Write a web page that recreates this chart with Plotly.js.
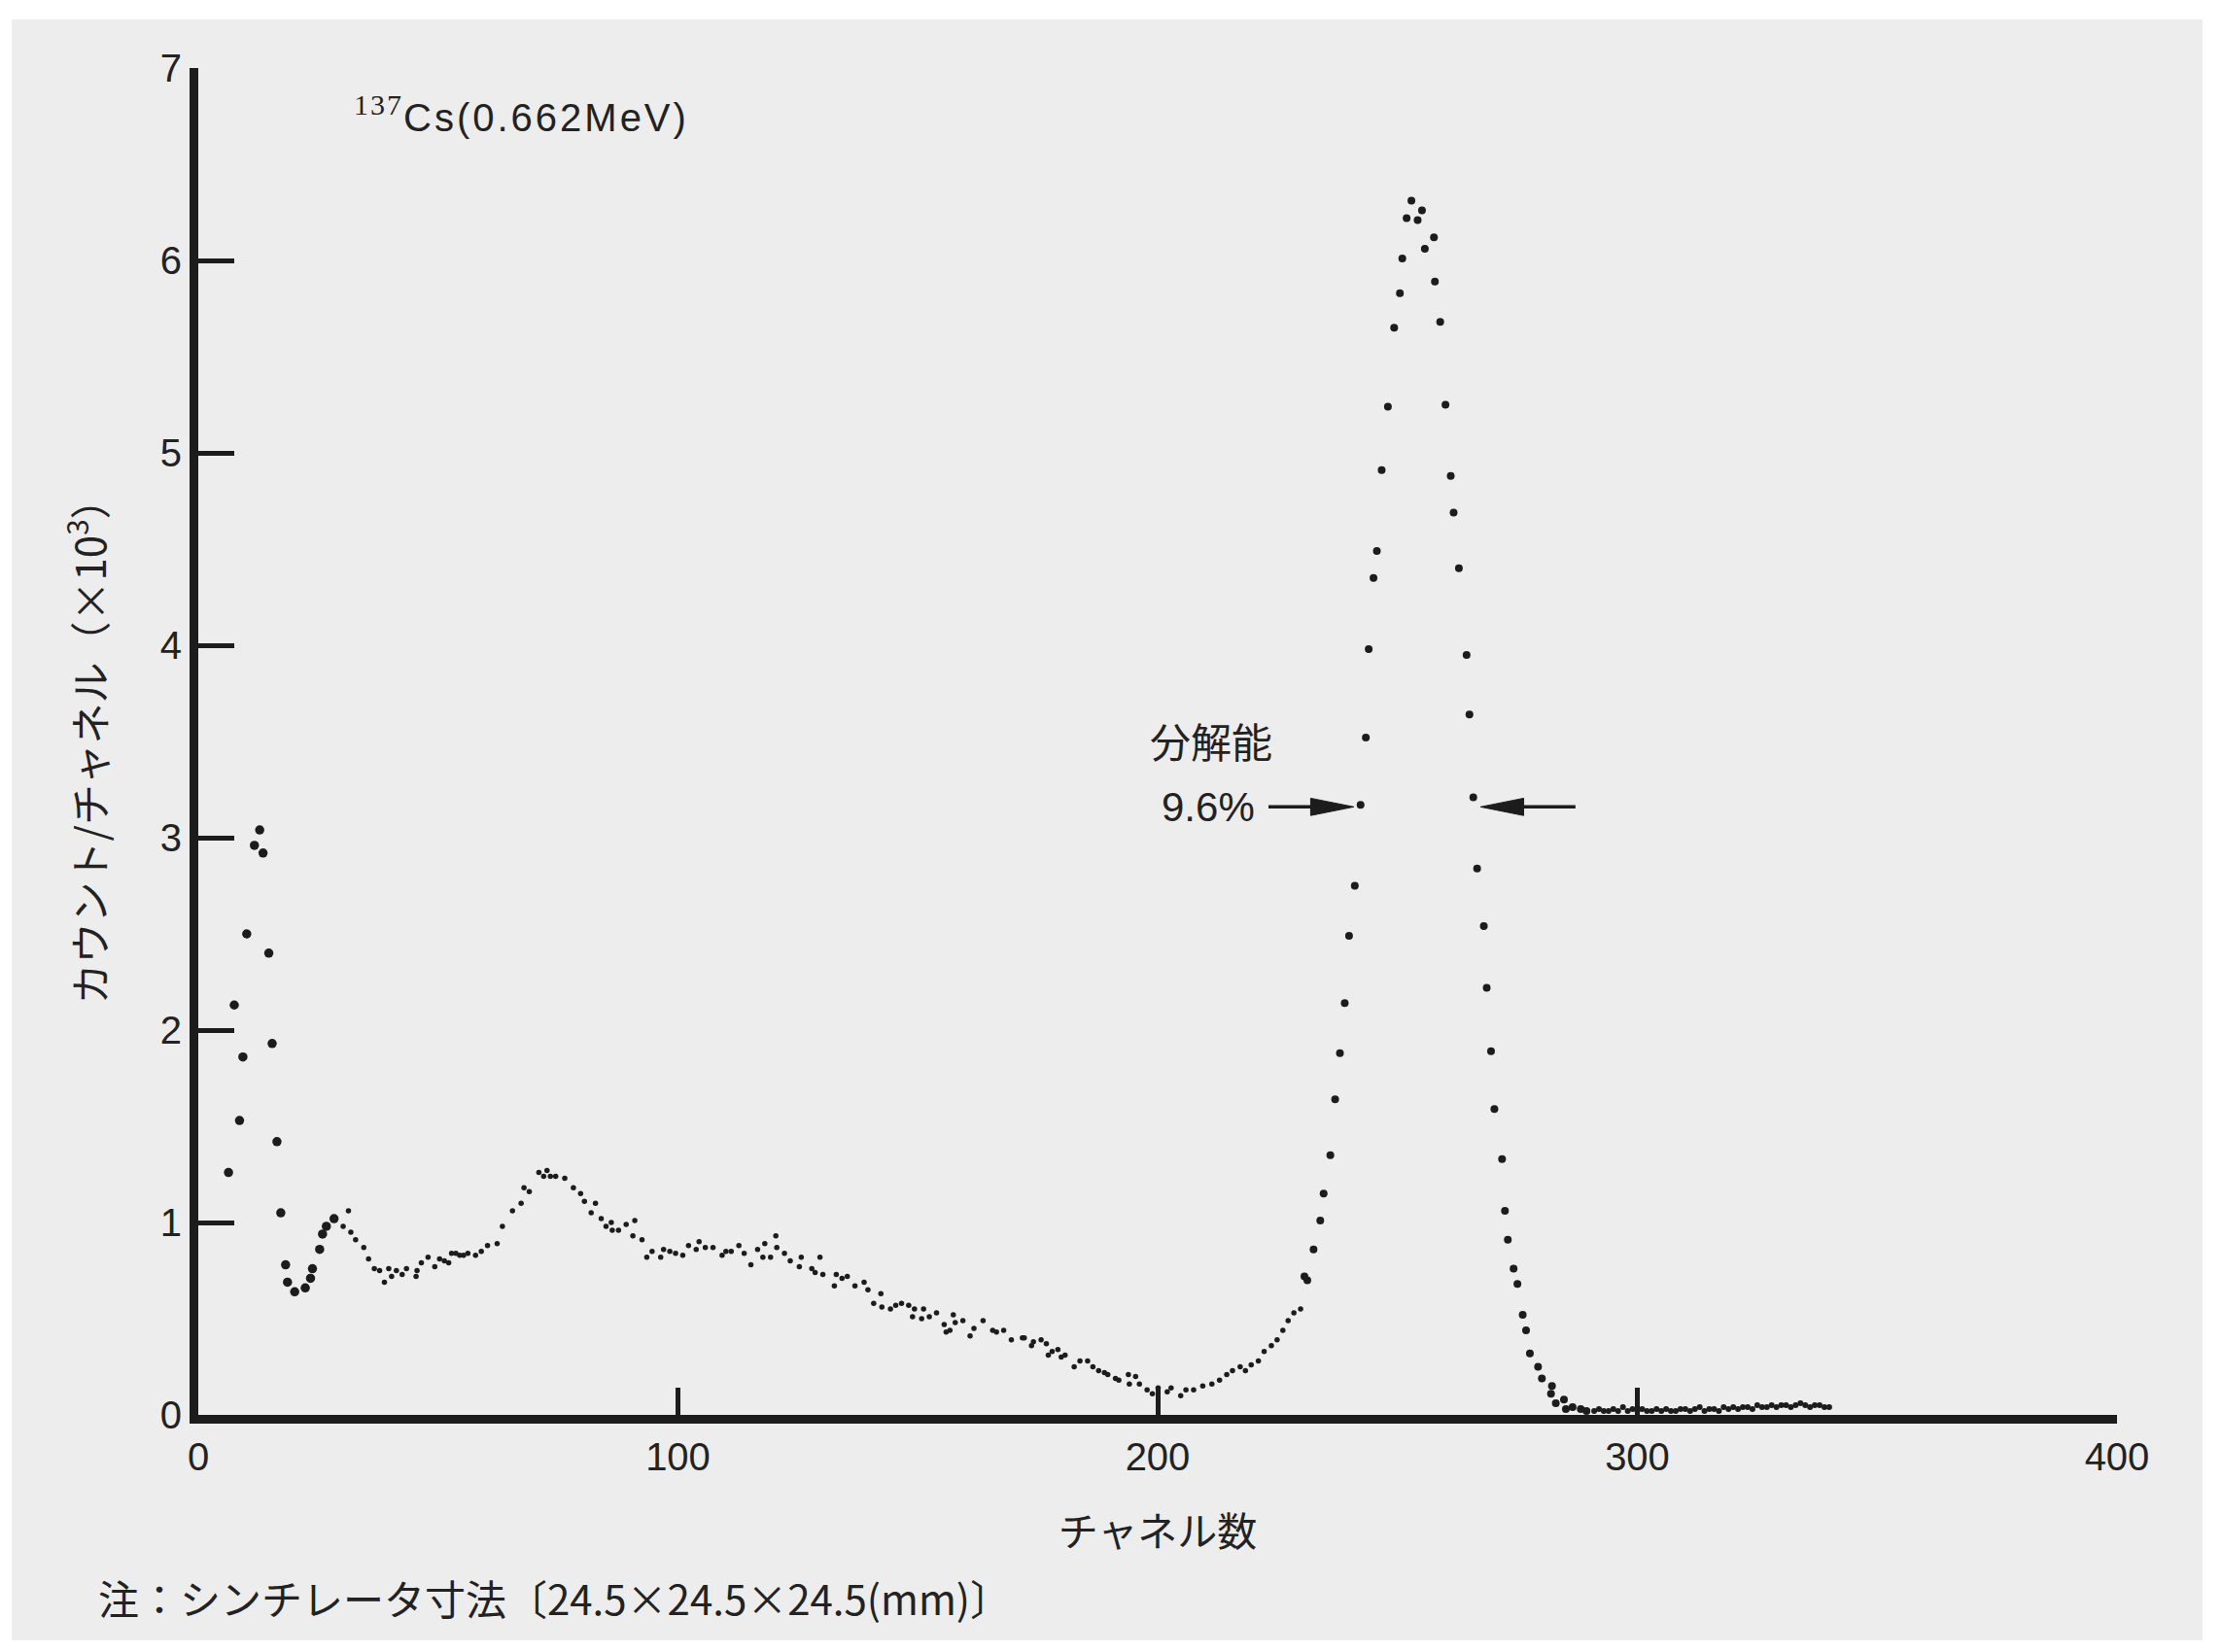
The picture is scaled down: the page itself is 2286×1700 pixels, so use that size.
<!DOCTYPE html>
<html>
<head>
<meta charset="utf-8">
<script src="https://cdn.plot.ly/plotly-3.0.1.min.js"></script>
<style>html,body{margin:0;padding:0;background:#fff;}</style>
</head>
<body>
<div id="chart" style="width:2286px;height:1700px;"></div>
<script>
// ---- data (channel, counts/channel ×10^3) ----
const lowX = [6.3, 7.5, 8.6, 9.3, 10.1, 11.7, 12.8, 13.5, 14.7, 15.4, 16.4, 17.2, 18.2, 18.6, 20.1, 22.3, 23.4, 23.8, 25.3, 25.9, 26.7, 28.3];
const lowY = [1.26, 2.13, 1.53, 1.86, 2.50, 2.96, 3.04, 2.92, 2.40, 1.93, 1.42, 1.05, 0.78, 0.69, 0.64, 0.66, 0.71, 0.76, 0.86, 0.94, 0.98, 1.02];

const contX = [30.2, 31.3, 31.8, 32.8, 34.5, 35.5, 36.7, 37.8, 38.8, 39.7, 40.3, 41.3, 42.5, 43.4, 45.4, 45.6, 46.5, 47.9, 49.3, 50.3,
  51.3, 52.2, 52.8, 53.7, 54.5, 55.3, 56.2, 57.8, 59.0, 60.3, 62.3, 63.4, 65.5, 67.3, 67.9, 69.0, 71.0, 72.0, 72.7, 73.4,
  74.5, 76.4, 78.2, 79.7, 80.5, 81.9, 82.8, 84.0, 85.0, 86.1, 86.3, 87.6, 89.2, 91.0, 90.6, 92.5, 93.5, 94.6, 96.4, 97.0,
  98.3, 99.5, 101.0, 102.2, 103.8, 104.4, 105.7, 107.3, 109.2, 110.0, 111.1, 112.7, 113.8, 115.2, 116.6, 117.7, 118.1, 119.3, 120.4, 120.6,
  122.2, 123.4, 125.3, 125.7, 127.9, 128.6, 129.6, 130.2, 133.0, 132.6, 134.2, 135.3, 136.9, 138.8, 139.6, 140.8, 142.3, 142.5, 144.3, 145.4,
  146.6, 148.1, 148.9, 149.3, 150.8, 151.2, 152.4, 153.9, 155.5, 155.9, 156.7, 157.4, 157.8, 159.4, 160.9, 161.7, 163.6, 165.6, 166.4, 167.9,
  169.5, 171.8, 172.2, 173.7, 174.1, 175.7, 176.8, 177.2, 178.0, 179.2, 179.9, 180.7, 182.6, 183.8, 185.4, 186.5, 187.7, 188.9, 189.6, 191.2,
  191.9, 193.9, 194.1, 195.4, 196.2, 197.8, 198.9, 200.1, 202.0, 202.8, 204.8, 205.9, 207.5, 209.4, 211.3, 212.9, 214.4, 215.6, 217.2, 218.3,
  219.5, 221.0, 222.2, 223.7, 224.9, 226.1, 227.2, 228.4, 229.8];
const contY = [0.98, 1.06, 0.95, 0.91, 0.87, 0.81, 0.76, 0.75, 0.69, 0.76, 0.72, 0.75, 0.73, 0.76, 0.72, 0.75, 0.79, 0.82, 0.77, 0.81,
  0.80, 0.79, 0.84, 0.84, 0.83, 0.83, 0.84, 0.83, 0.85, 0.88, 0.89, 0.98, 1.06, 1.10, 1.18, 1.16, 1.26, 1.24, 1.27, 1.24,
  1.24, 1.23, 1.18, 1.15, 1.11, 1.05, 1.10, 1.02, 0.98, 1.00, 0.96, 0.96, 0.99, 1.01, 0.93, 0.91, 0.82, 0.85, 0.82, 0.86,
  0.85, 0.84, 0.83, 0.88, 0.86, 0.90, 0.87, 0.87, 0.83, 0.85, 0.85, 0.88, 0.84, 0.78, 0.86, 0.82, 0.89, 0.82, 0.93, 0.87,
  0.84, 0.80, 0.77, 0.82, 0.76, 0.74, 0.82, 0.73, 0.73, 0.67, 0.71, 0.72, 0.67, 0.69, 0.65, 0.58, 0.63, 0.56, 0.55, 0.57,
  0.58, 0.57, 0.51, 0.55, 0.50, 0.55, 0.51, 0.53, 0.47, 0.43, 0.44, 0.52, 0.48, 0.49, 0.41, 0.45, 0.49, 0.44, 0.43, 0.44,
  0.39, 0.40, 0.40, 0.36, 0.38, 0.39, 0.37, 0.31, 0.33, 0.34, 0.30, 0.31, 0.25, 0.28, 0.28, 0.25, 0.23, 0.22, 0.21, 0.19,
  0.18, 0.21, 0.16, 0.20, 0.16, 0.13, 0.11, 0.14, 0.12, 0.14, 0.10, 0.13, 0.13, 0.15, 0.16, 0.18, 0.21, 0.23, 0.25, 0.23,
  0.26, 0.28, 0.33, 0.36, 0.39, 0.44, 0.49, 0.53, 0.55];

const peakX = [230.6, 231.2, 232.5, 233.9, 234.6, 236.0, 237.0, 238.0, 239.0, 239.9, 241.1, 242.3, 243.4, 244.0, 245.0, 245.7, 246.7, 248.0, 249.3, 250.5,
  251.0, 251.9, 252.9, 254.2, 255.1, 255.7, 257.6, 257.8, 258.9, 260.0, 261.1, 261.7, 262.8, 264.4, 265.0, 265.8, 266.6, 268.0, 268.6, 269.5,
  270.2, 271.8, 272.4, 273.0, 274.2, 275.0, 276.1, 276.8, 277.6, 279.3, 280.1, 282.2, 282.0, 283.0, 284.7, 285.1, 286.5, 288.2, 289.4];
const peakY = [0.72, 0.70, 0.86, 1.01, 1.15, 1.35, 1.64, 1.88, 2.14, 2.49, 2.75, 3.17, 3.52, 3.98, 4.35, 4.49, 4.91, 5.24, 5.65, 5.83,
  6.01, 6.22, 6.31, 6.21, 6.26, 6.06, 6.12, 5.89, 5.68, 5.25, 4.88, 4.69, 4.40, 3.95, 3.64, 3.21, 2.84, 2.54, 2.22, 1.89,
  1.59, 1.33, 1.06, 0.91, 0.76, 0.68, 0.52, 0.44, 0.32, 0.25, 0.19, 0.15, 0.11, 0.06, 0.08, 0.03, 0.04, 0.03, 0.02];

const tailX = [291, 292, 293, 294, 295, 296, 297, 298, 299, 300, 301, 302, 303, 304, 305, 306, 307, 308, 309, 310,
  311, 312, 313, 314, 315, 316, 317, 318, 319, 320, 321, 322, 323, 324, 325, 326, 327, 328, 329, 330,
  331, 332, 333, 334, 335, 336, 337, 338, 339, 340];
const tailY = [0.02, 0.03, 0.02, 0.02, 0.03, 0.02, 0.04, 0.02, 0.03, 0.02, 0.03, 0.02, 0.02, 0.03, 0.02, 0.03, 0.02, 0.02, 0.03, 0.03,
  0.02, 0.03, 0.04, 0.02, 0.03, 0.03, 0.02, 0.04, 0.03, 0.04, 0.03, 0.04, 0.04, 0.03, 0.05, 0.04, 0.04, 0.05, 0.04, 0.05,
  0.05, 0.04, 0.05, 0.06, 0.05, 0.04, 0.05, 0.05, 0.04, 0.04];

const xTickVals = [0, 100, 200, 300, 400];
const yTickVals = [0, 1, 2, 3, 4, 5, 6, 7];

// ---- styling ----
const INK = '#1c1c1c';
const TXT = '#222222';
const LATIN = 'Liberation Sans, Arial, sans-serif';
const CJK = 'Noto Sans CJK JP, sans-serif';

function dots(x, y, size) {
  return {type: 'scatter', mode: 'markers', x: x, y: y, cliponaxis: false, hoverinfo: 'skip',
    marker: {color: INK, size: size, line: {width: 0}}};
}

const traces = [dots(lowX, lowY, 9.5), dots(contX, contY, 5.5), dots(peakX, peakY, 8), dots(tailX, tailY, 6)];

// arrow geometry (annotation, data coords)
const arrowV = 3.16;
const hlX = 9.0, hlY = 0.045; // head length in channels, half height in counts
function arrowShapes(tail, tip) {
  const dir = tip > tail ? 1 : -1;
  const back = tip - dir * hlX;
  return [
    {type: 'line', xref: 'x', yref: 'y', x0: tail, x1: back, y0: arrowV, y1: arrowV, line: {color: INK, width: 3.5}},
    {type: 'path', xref: 'x', yref: 'y', fillcolor: INK, line: {color: INK, width: 1},
      path: 'M' + tip + ',' + arrowV + ' L' + back + ',' + (arrowV + hlY) + ' L' + back + ',' + (arrowV - hlY) + ' Z'}
  ];
}

const layout = {
  width: 2286, height: 1700,
  margin: {l: 204, r: 108, t: 70, b: 244},
  paper_bgcolor: '#ffffff',
  plot_bgcolor: 'rgba(0,0,0,0)',
  showlegend: false,
  xaxis: {
    range: [0, 400], tickmode: 'array', tickvals: xTickVals, ticktext: xTickVals.map(String),
    ticks: 'inside', ticklen: 28, tickwidth: 5, tickcolor: INK,
    showline: true, linewidth: 9, linecolor: INK, showgrid: false, zeroline: false,
    tickfont: {family: LATIN, size: 40, color: TXT},
    title: {text: 'チャネル数', font: {family: CJK, size: 41, color: TXT}, standoff: 46}
  },
  yaxis: {
    range: [0, 7], tickmode: 'array', tickvals: yTickVals, ticktext: yTickVals.map(String),
    ticks: 'inside', ticklen: 37, tickwidth: 5, tickcolor: INK,
    showline: true, linewidth: 9, linecolor: INK, showgrid: false, zeroline: false,
    tickfont: {family: LATIN, size: 40, color: TXT},
    title: {text: 'カウント/チャネル（×10<sup>3</sup>）', font: {family: CJK, size: 42, color: TXT}, standoff: 46}
  },
  shapes: [
    {type: 'rect', xref: 'paper', yref: 'paper', x0: -0.0972, x1: 1.0446, y0: -0.1674, y1: 1.036,
      fillcolor: '#ededed', line: {width: 0}, layer: 'below'}
  ].concat(arrowShapes(223.1, 240.9), arrowShapes(287.1, 267.3)),
  annotations: [
    {xref: 'paper', yref: 'paper', x: 0.0800, y: 0.966, xanchor: 'left', yanchor: 'middle', showarrow: false,
      text: '<sup><span style="font-family:Liberation Serif;font-size:30px;letter-spacing:2px">137</span></sup><span style="letter-spacing:3px">Cs(0.662MeV)</span>',
      font: {family: LATIN, size: 40, color: TXT}},
    {xref: 'x', yref: 'y', x: 211.1, y: 3.51, xanchor: 'center', yanchor: 'middle', showarrow: false,
      text: '分解能', font: {family: CJK, size: 42, color: TXT}},
    {xref: 'x', yref: 'y', x: 220.7, y: 3.157, xanchor: 'right', yanchor: 'middle', showarrow: false,
      text: '9.6%', font: {family: LATIN, size: 42, color: TXT}},
    {xref: 'paper', yref: 'paper', x: -0.0530, y: -0.135, xanchor: 'left', yanchor: 'middle', showarrow: false,
      text: '注：シンチレータ寸法〔24.5×24.5×24.5(mm)〕', font: {family: CJK, size: 42, color: TXT}}
  ]
};

Plotly.newPlot('chart', traces, layout, {displayModeBar: false, staticPlot: true});
</script>
</body>
</html>
